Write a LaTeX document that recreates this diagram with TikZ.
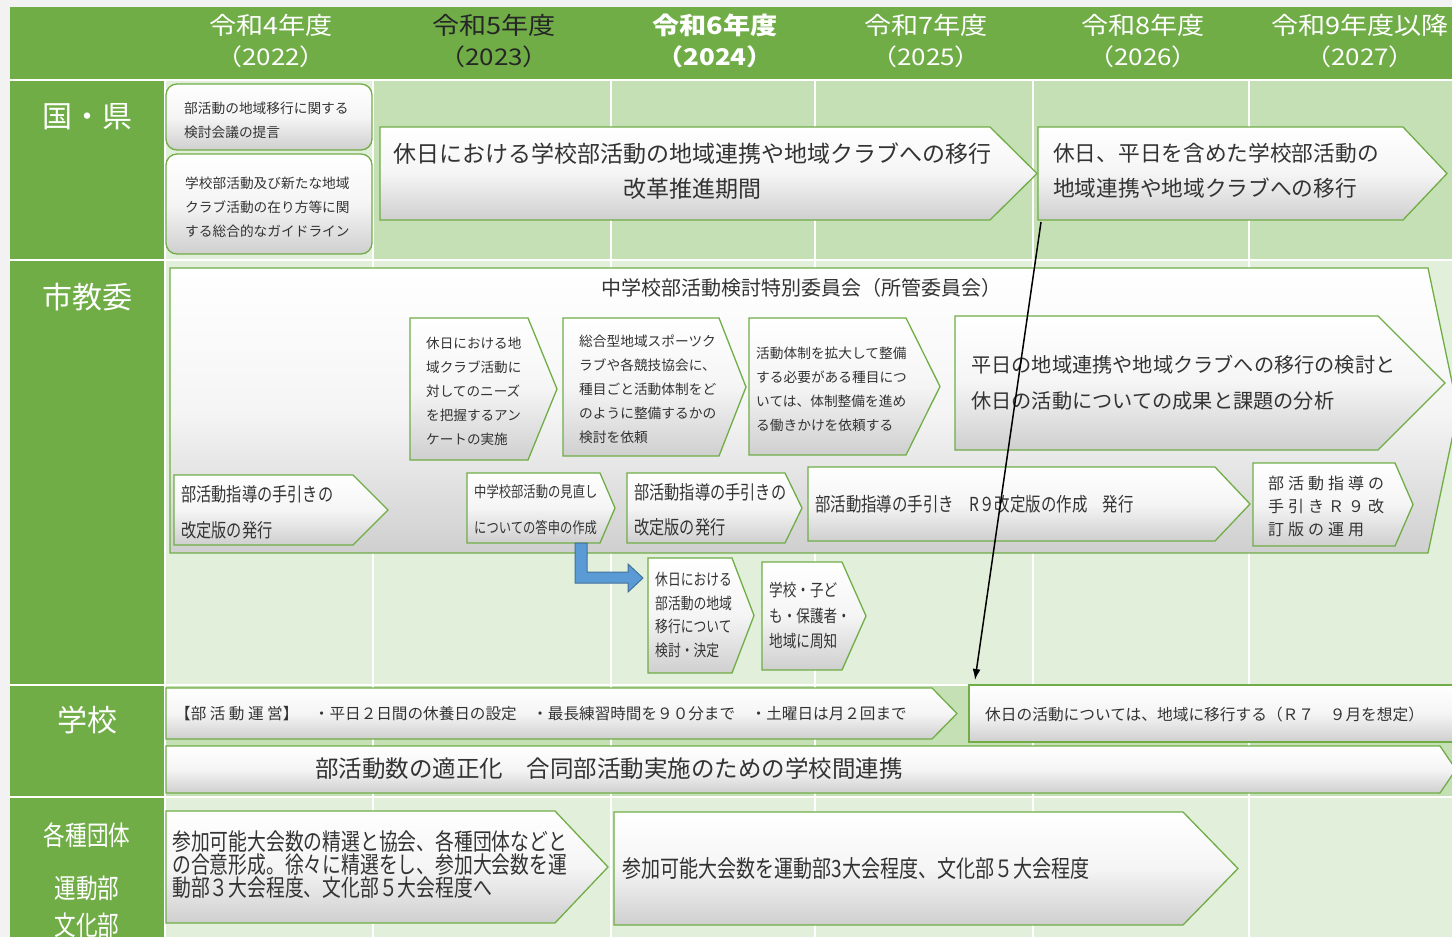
\documentclass[tikz,border=0pt]{standalone}
\usepackage{fontspec}
\setmainfont{Noto Sans CJK JP}
\newfontfamily\jpnarrow[FakeStretch=0.8]{Noto Sans CJK JP}
\newfontfamily\jpwide[FakeStretch=1.13]{Noto Sans CJK JP}
\usetikzlibrary{arrows.meta}

\definecolor{hdrgreen}{HTML}{70AD47}
\definecolor{lightgreen}{HTML}{C5E0B4}
\definecolor{palegreen}{HTML}{E2EFDA}
\definecolor{boxgray}{HTML}{CFCFCF}
\definecolor{txtgray}{HTML}{333333}
\definecolor{arrowblue}{HTML}{5B9BD5}
\definecolor{arrowedge}{HTML}{41719C}
\definecolor{bggray}{HTML}{F2F2F2}

\newcommand{\fsz}[2]{\fontsize{#1}{#2}\selectfont}
% pentagon arrow box: left, top, tip start, tip, bottom
\newcommand{\pentbox}[5]{\path[box] (#1,#2) -- (#3,#2) -- (#4,{(#2+#5)/2}) -- (#3,#5) -- (#1,#5) -- cycle;}

\begin{document}
\begin{tikzpicture}[x=1pt,y=-1pt,
    box/.style={draw=hdrgreen,line width=1.3pt,top color=white,bottom color=boxgray,middle color=white!96!black},
    rbox/.style={box,rounded corners=11pt},
    txt/.style={text=txtgray,inner sep=0pt,align=left,anchor=west},
    ctxt/.style={text=txtgray,inner sep=0pt,align=center},
    hd/.style={text=white,inner sep=0pt},
    gridline/.style={white,line width=1.2pt},
    rowline/.style={white,line width=2pt}]
    \useasboundingbox (0,0) rectangle (1452,937);
    \clip (0,0) rectangle (1452,937);
    \fill[bggray] (0,0) rectangle (1452,937);

    %intestazione e colonna sinistra
    \fill[hdrgreen] (10,7) rectangle (1452,80);
    \fill[hdrgreen] (10,80) rectangle (165,937);
    %celle
    \fill[lightgreen] (165,80) rectangle (1452,260);
    \fill[palegreen] (165,80) rectangle (373,260);
    \fill[palegreen] (165,260) rectangle (1452,685);
    \fill[lightgreen] (165,685) rectangle (1452,797);
    \fill[palegreen] (165,797) rectangle (1452,937);
    \foreach \x in {373,611,815,1033,1249}
        \draw[gridline] (\x,80) -- (\x,937);
    \foreach \y in {80,260,685,797}
        \draw[rowline] (10,\y) -- (1452,\y);
    \draw[rowline] (165,80) -- (165,937);

    %anni
    \node[hd,font={\jpwide\fsz{24}{24}}] (r4) at (271,25) {令和4年度};
    \node[hd,font={\jpwide\fsz{23}{23}}] (y4) at (271,57) {（2022）};
    \node[hd,text=black!85,font={\jpwide\fsz{24}{24}}] (r5) at (494,25) {令和5年度};
    \node[hd,text=black!85,font={\jpwide\fsz{23}{23}}] (y5) at (494,57) {（2023）};
    \node[hd,font={\jpwide\bfseries\fsz{24}{24}}] (r6) at (715,25) {令和6年度};
    \node[hd,font={\jpwide\bfseries\fsz{23}{23}}] (y6) at (715,57) {（2024）};
    \node[hd,font={\jpwide\fsz{24}{24}}] (r7) at (926,25) {令和7年度};
    \node[hd,font={\jpwide\fsz{23}{23}}] (y7) at (926,57) {（2025）};
    \node[hd,font={\jpwide\fsz{24}{24}}] (r8) at (1143,25) {令和8年度};
    \node[hd,font={\jpwide\fsz{23}{23}}] (y8) at (1143,57) {（2026）};
    \node[hd,font={\jpwide\fsz{24}{24}}] (r9) at (1360,25) {令和9年度以降};
    \node[hd,font={\jpwide\fsz{23}{23}}] (y9) at (1360,57) {（2027）};

    %righe
    \node[hd,font=\fsz{30}{30}] (kuni) at (87,117) {国・県};
    \node[hd,font=\fsz{30}{30}] (shi) at (87,297) {市教委};
    \node[hd,font=\fsz{30}{30}] (gakko) at (87,720) {学校};
    \node[hd,font={\jpnarrow\fsz{27}{27}}] (dantai) at (87,835) {各種団体};
    \node[hd,font={\jpnarrow\fsz{27}{27}}] (undo) at (87,888) {運動部};
    \node[hd,font={\jpnarrow\fsz{27}{27}}] (bunka) at (87,925) {文化部};

    %国・県
    \draw[rbox] (166,84) rectangle (372,150);
    \node[txt,font=\fsz{13.7}{24}] (teigen) at (184,120) {部活動の地域移行に関する\\検討会議の提言};
    \draw[rbox] (166,154) rectangle (372,254);
    \node[txt,font=\fsz{13.7}{24}] (guide) at (185,207) {学校部活動及び新たな地域\\クラブ活動の在り方等に関\\する総合的なガイドライン};
    \pentbox{380}{127}{990}{1037}{220}
    \node[ctxt,font=\fsz{23}{35}] (kaikaku) at (692,171) {休日における学校部活動の地域連携や地域クラブへの移行\\改革推進期間};
    \pentbox{1038}{127}{1403}{1447}{220}
    \node[txt,font=\fsz{21.7}{35}] (ikou) at (1053,171) {休日、平日を含めた学校部活動の\\地域連携や地域クラブへの移行};
    \coordinate (ikou-sw) at (1041,222);

    %市教委
    \pentbox{170}{268}{1428}{1458}{553}
    \node[ctxt,font=\fsz{20}{20}] (iinkai) at (801,288) {中学校部活動検討特別委員会（所管委員会）};
    \pentbox{410}{318}{528}{557}{460}
    \node[txt,font=\fsz{13.6}{24}] (anketo) at (426,391) {休日における地\\域クラブ活動に\\対してのニーズ\\を把握するアン\\ケートの実施};
    \pentbox{563}{318}{719}{746}{456}
    \node[txt,font=\fsz{13.7}{24}] (irai) at (579,389) {総合型地域スポーツク\\ラブや各競技協会に、\\種目ごと活動体制をど\\のように整備するかの\\検討を依頼};
    \pentbox{749}{318}{906}{940}{455}
    \node[txt,font=\fsz{13.7}{24}] (seibi) at (756,389) {活動体制を拡大して整備\\する必要がある種目につ\\いては、体制整備を進め\\る働きかけを依頼する};
    \pentbox{955}{316}{1378}{1445}{450}
    \node[txt,font=\fsz{20.2}{36}] (kento) at (971,383) {平日の地域連携や地域クラブへの移行の検討と\\休日の活動についての成果と課題の分析};
    \pentbox{174}{475}{353}{388}{545}
    \node[txt,font={\jpnarrow\fsz{19}{36}}] (tebiki) at (181,512) {部活動指導の手引きの\\改定版の発行};
    \pentbox{467}{473}{600}{615}{543}
    \node[txt,font={\jpnarrow\fsz{15.4}{36}}] (toshin) at (474,510) {中学校部活動の見直し\\についての答申の作成};
    \coordinate (toshin-s) at (575,543);
    \pentbox{627}{473}{785}{802}{543}
    \node[txt,font={\jpnarrow\fsz{19}{35}}] (kaitei) at (634,510) {部活動指導の手引きの\\改定版の発行};
    \pentbox{808}{467}{1215}{1250}{541}
    \node[txt,font={\jpnarrow\fsz{19.3}{19}}] (sakusei) at (815,504) {部活動指導の手引き　R９改定版の作成　発行};
    \pentbox{1253}{463}{1395}{1413}{546}
    \node[txt,font={\fsz{16}{23}\addfontfeature{LetterSpace=25}}] (unyo) at (1268,506) {部活動指導の\\手引きＲ９改\\訂版の運用};
    %freccia blu
    \draw[draw=arrowedge,fill=arrowblue,line width=1pt] (toshin-s) -- ++(12,0) -- ++(0,29) -- ++(41,0) -- ++(0,-8) -- ++(15,14) -- ++(-15,14) -- ++(0,-9) -- ++(-53,0) -- cycle;
    \pentbox{648}{558}{732}{754}{673}
    \node[txt,font={\jpnarrow\fsz{16}{23.5}}] (kettei) at (655,615) {休日における\\部活動の地域\\移行について\\検討・決定};
    \pentbox{762}{562}{842}{866}{670}
    \node[txt,font={\jpnarrow\fsz{17}{25.5}}] (shuchi) at (769,616) {学校・子ど\\も・保護者・\\地域に周知};

    %学校
    \pentbox{166}{688}{932}{957}{739}
    \node[txt,font=\fsz{15.6}{15.6}] (unei) at (175,714) {【部 活 動 運 営】　・平日２日間の休養日の設定　・最長練習時間を９０分まで　・土曜日は月２回まで};
    \draw[box] (969,685) rectangle (1460,742);
    \node[txt,font=\fsz{15.7}{15.7}] (chiiki) at (985,715) {休日の活動については、地域に移行する（Ｒ７　９月を想定）};
    \coordinate (chiiki-n) at (975,680);
    \pentbox{166}{746}{1440}{1456}{793}
    \node[ctxt,font=\fsz{23.5}{23.5}] (tekisei) at (609,769) {部活動数の適正化　合同部活動実施のための学校間連携};

    %各種団体
    \pentbox{166}{811}{555}{608}{923}
    \node[txt,font={\jpnarrow\fsz{23.5}{23}}] (seisen) at (172,865) {参加可能大会数の精選と協会、各種団体などと\\の合意形成。徐々に精選をし、参加大会数を運\\動部３大会程度、文化部５大会程度へ};
    \pentbox{614}{812}{1183}{1238}{925}
    \node[txt,font={\jpnarrow\fsz{23.8}{23}}] (taikai) at (622,869) {参加可能大会数を運動部3大会程度、文化部５大会程度};

    %freccia nera
    \draw[line width=1.5pt,-{Latex[length=11pt,width=8pt]}] (ikou-sw) -- (chiiki-n);
\end{tikzpicture}
\end{document}
